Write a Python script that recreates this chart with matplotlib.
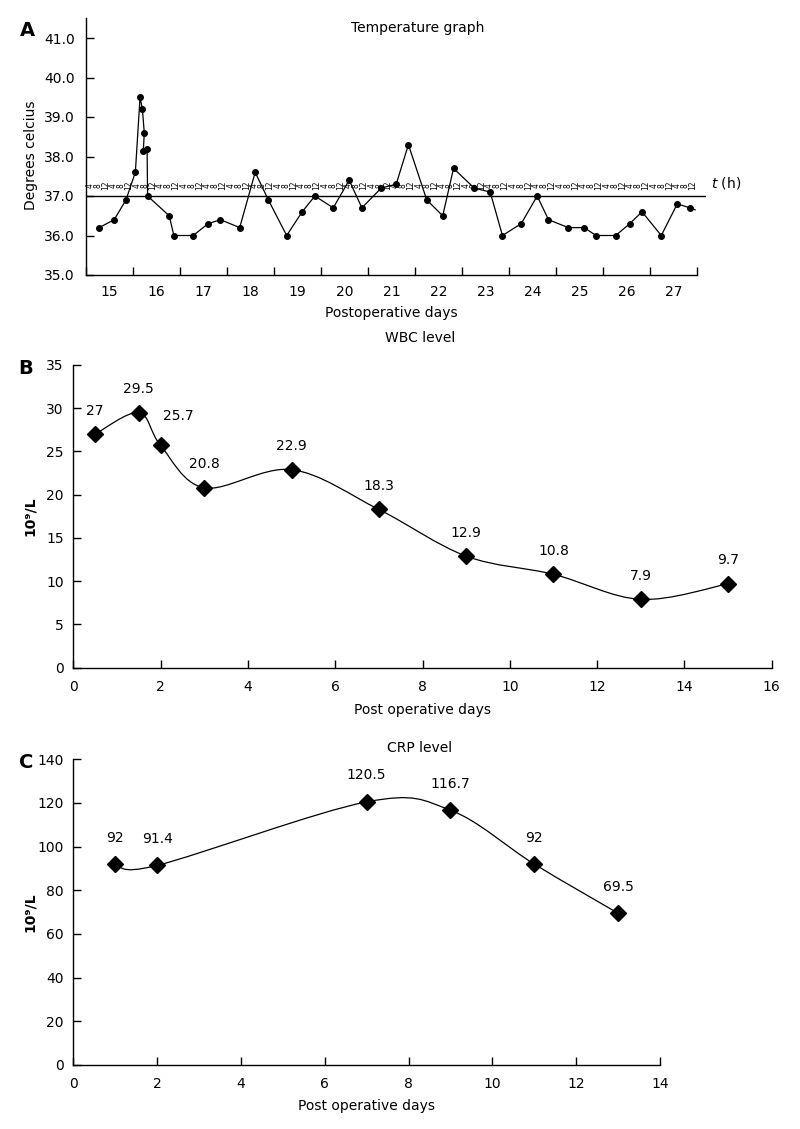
import matplotlib
matplotlib.use("Agg")
import matplotlib.pyplot as plt
import numpy as np
from matplotlib.path import Path
from matplotlib.patches import PathPatch

plt.rcParams['font.family'] = ['DejaVu Sans']
plt.rcParams['font.size'] = 10

# --- A: temperature readings (x = day + fraction of day) ---
temp_days = [15.28, 15.60, 15.85, 16.05, 16.15, 16.20, 16.24, 16.22, 16.30, 16.31,
             16.77, 16.87, 17.28, 17.60, 17.86, 18.27, 18.60, 18.88, 19.27, 19.60,
             19.87, 20.26, 20.60, 20.87, 21.28, 21.60, 21.86, 22.25, 22.59, 22.82,
             23.26, 23.60, 23.86, 24.26, 24.60, 24.84, 25.26, 25.60, 25.85, 26.27,
             26.57, 26.83, 27.24, 27.58, 27.85, 27.96]
temp_c = [36.2, 36.4, 36.9, 37.6, 39.5, 39.2, 38.6, 38.15, 38.2, 37.0,
          36.5, 36.0, 36.0, 36.3, 36.4, 36.2, 37.6, 36.9, 36.0, 36.6,
          37.0, 36.7, 37.4, 36.7, 37.2, 37.3, 38.3, 36.9, 36.5, 37.7,
          37.2, 37.1, 36.0, 36.3, 37.0, 36.4, 36.2, 36.2, 36.0, 36.0,
          36.3, 36.6, 36.0, 36.8, 36.7, 36.65]
day_labels = [str(d) for d in range(15, 28)]
hour_labels = ['4', '8', '12', '4', '8', '12']

# --- B: WBC ---
wbc_days = [0.5, 1.5, 2, 3, 5, 7, 9, 11, 13, 15]
wbc_vals = [27, 29.5, 25.7, 20.8, 22.9, 18.3, 12.9, 10.8, 7.9, 9.7]

# --- C: CRP ---
crp_days = [1, 2, 7, 9, 11, 13]
crp_vals = [92, 91.4, 120.5, 116.7, 92, 69.5]

W, H = 800, 1129


def fax(left, top, right, bottom):
    return [left / W, 1 - bottom / H, (right - left) / W, (bottom - top) / H]


def smooth_path(xs, ys):
    pts = np.column_stack([xs, ys]).astype(float)
    n = len(pts)
    verts = [pts[0]]
    codes = [Path.MOVETO]
    for i in range(n - 1):
        p0 = pts[i - 1] if i > 0 else pts[i]
        p1 = pts[i]
        p2 = pts[i + 1]
        p3 = pts[i + 2] if i + 2 < n else pts[i + 1]
        verts += [p1 + (p2 - p0) / 6, p2 - (p3 - p1) / 6, p2]
        codes += [Path.CURVE4] * 3
    return Path(verts, codes)


def style(ax):
    ax.spines['top'].set_visible(False)
    ax.spines['right'].set_visible(False)
    ax.tick_params(direction='in', length=6, width=1, labelsize=10)
    for s in ('left', 'bottom'):
        ax.spines[s].set_linewidth(1)


fig = plt.figure(figsize=(8, 11.29), dpi=100)

# ---------------- A ----------------
axA = fig.add_axes(fax(86, 18.25, 706.4, 275))
style(axA)
axA.set_xlim(15, 28.2)
axA.set_ylim(35, 41.5)
axA.spines['bottom'].set_bounds(15, 28)
axA.set_xticks(range(15, 29))
axA.set_xticklabels([])
axA.set_xticks([d + 0.5 for d in range(15, 28)], minor=True)
axA.set_xticklabels(day_labels, minor=True)
axA.tick_params(axis='x', which='minor', length=0, pad=7)
axA.set_yticks(np.arange(35, 41.5, 1.0))
axA.set_yticklabels(['%.1f' % v for v in np.arange(35, 41.5, 1.0)])
axA.tick_params(axis='y', pad=8)
axA.axhline(37, color='black', lw=1)
axA.plot(temp_days, temp_c, color='black', lw=0.9)
axA.plot(temp_days[:-1], temp_c[:-1], 'o', color='black', ms=4)
for i in range(len(day_labels)):
    for k, h in enumerate(hour_labels):
        axA.text(15 + i + (k + 0.5) / 6, 37.27, h, rotation=90, fontsize=5.5,
                 ha='center', va='center')
fig.text(418 / W, 1 - 28 / H, 'Temperature graph', ha='center', va='center', fontsize=10)
fig.text(711 / W, 1 - 183 / H, r'$t$ (h)', ha='left', va='center', fontsize=10)
fig.text(391 / W, 1 - 313 / H, 'Postoperative days', ha='center', va='center', fontsize=10)
fig.text(31 / W, 1 - 155 / H, 'Degrees celcius', rotation=90, ha='center', va='center', fontsize=10)
fig.text(27 / W, 1 - 30 / H, 'A', ha='center', va='center', fontsize=14, fontweight='bold')

# ---------------- B ----------------
axB = fig.add_axes(fax(73.3, 365, 771.7, 667.7))
style(axB)
axB.set_xlim(0, 16)
axB.set_ylim(0, 35)
axB.set_xticks(range(0, 17, 2))
axB.set_yticks(range(0, 36, 5))
axB.tick_params(axis='y', pad=7)
axB.tick_params(axis='x', pad=9)
axB.add_patch(PathPatch(smooth_path(wbc_days, wbc_vals), fill=False, color='black', lw=0.9))
axB.plot(wbc_days, wbc_vals, 'D', color='black', ms=8.5)
for x, v in zip(wbc_days, wbc_vals):
    dx, dy = (13, 21) if v == 25.7 else (0, 17)
    axB.annotate(('%g' % v), (x, v), xytext=(dx, dy), textcoords='offset points',
                 ha='center', va='center', fontsize=10)
fig.text(420 / W, 1 - 338 / H, 'WBC level', ha='center', va='center', fontsize=10)
fig.text(422 / W, 1 - 710 / H, 'Post operative days', ha='center', va='center', fontsize=10)
fig.text(30 / W, 1 - 516 / H, '10\u2079/L', rotation=90, ha='center', va='center',
         fontsize=10, fontweight='bold')
fig.text(26 / W, 1 - 368 / H, 'B', ha='center', va='center', fontsize=14, fontweight='bold')

# ---------------- C ----------------
axC = fig.add_axes(fax(73.3, 759.3, 660, 1065))
style(axC)
axC.set_xlim(0, 14)
axC.set_ylim(0, 140)
axC.set_xticks(range(0, 15, 2))
axC.set_yticks(range(0, 141, 20))
axC.tick_params(axis='y', pad=7)
axC.tick_params(axis='x', pad=9)
axC.add_patch(PathPatch(smooth_path(crp_days, crp_vals), fill=False, color='black', lw=0.9))
axC.plot(crp_days, crp_vals, 'D', color='black', ms=8.5)
for x, v in zip(crp_days, crp_vals):
    axC.annotate(('%g' % v), (x, v), xytext=(0, 19), textcoords='offset points',
                 ha='center', va='center', fontsize=10)
fig.text(420 / W, 1 - 748 / H, 'CRP level', ha='center', va='center', fontsize=10)
fig.text(367 / W, 1 - 1106 / H, 'Post operative days', ha='center', va='center', fontsize=10)
fig.text(30 / W, 1 - 912 / H, '10\u2079/L', rotation=90, ha='center', va='center',
         fontsize=10, fontweight='bold')
fig.text(26 / W, 1 - 763 / H, 'C', ha='center', va='center', fontsize=14, fontweight='bold')

fig.savefig('out.png', dpi=100)
